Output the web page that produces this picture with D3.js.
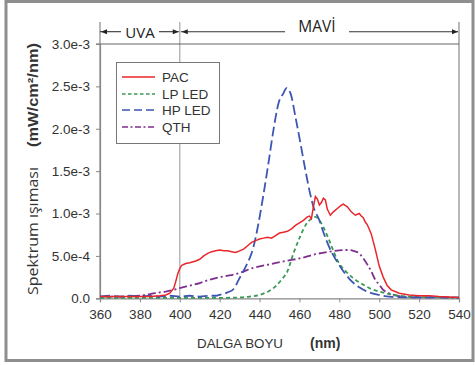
<!DOCTYPE html>
<html><head><meta charset="utf-8">
<script src="https://cdn.jsdelivr.net/npm/d3@7"></script>
<style>html,body{margin:0;padding:0;background:#fff;}svg{display:block;}</style>
</head><body>
<svg id="c" width="475" height="365"></svg>
<script>
// ---- data (values in units of 1e-4 mW/cm²/nm) ----
const pacNm  = [360,365,370,375,380,385,390,393,395,397,398,399,400,401,403,405,408,410,412,414,416,418,420,422,424,426,428,430,432,434,436,438,440,442,444,446,448,450,452,454,456,458,460,462,464,465,466,467,468,469,470,471,472,473,474,475.5,477,479,481,482,484,486,488,490,491,492,493,494,496,498,500,502,504,506,508,510,515,520,525,530,535,540];
const pacVal = [0.2,0.2,0.2,0.2,0.2,0.2,0.3,0.4,0.6,1.2,2.0,2.9,3.5,3.9,4.1,4.2,4.4,4.6,5.0,5.3,5.5,5.6,5.7,5.6,5.6,5.5,5.4,5.6,5.8,6.2,6.6,6.8,7.0,7.1,7.2,7.1,7.4,7.7,7.8,7.9,8.2,8.6,8.9,9.2,9.6,9.7,9.4,10.8,12.0,11.7,11.0,11.3,11.8,11.6,10.5,9.8,10.2,10.6,11.0,11.1,10.8,10.2,9.8,10.0,9.7,9.5,9.0,8.7,7.6,5.8,3.8,2.5,1.5,1.0,0.8,0.6,0.4,0.3,0.3,0.2,0.15,0.1];

const lpNm  = [360,380,400,420,430,435,440,445,448,451,454,457,460,463,466,468,470,472,475.5,479,484,488,492,496,500,505,510,520,530,540];
const lpVal = [0.05,0.05,0.05,0.05,0.1,0.2,0.4,0.9,1.4,2.2,3.2,5.3,7.1,8.6,9.4,9.6,9.2,8.4,6.5,4.5,3.0,2.2,1.6,1.1,0.8,0.5,0.3,0.15,0.1,0.05];

const hpNm  = [360,365,370,375,380,385,390,395,400,405,410,415,418,420,424,427,430,433,437,439.5,442,444.5,447,449.5,452,453.5,455.5,458,460.5,463,465.5,467,470,472,475,480,485,490,495,500,505,510,520,530,540];
const hpVal = [0.2,0.3,0.2,0.3,0.2,0.3,0.2,0.3,0.2,0.3,0.2,0.3,0.3,0.4,0.7,1.1,2.4,3.7,6.1,8.9,12.3,16.0,19.9,23.0,24.2,24.8,24.2,21.4,18.3,15.1,12.2,10.8,9.2,7.8,6.0,3.9,2.3,1.3,0.7,0.4,0.2,0.15,0.1,0.1,0.1];

const qthNm  = [360,370,380,385,390,393,397,400,405,410,415,420,425,430,437,445,453,460,468,475,480,484,487,490,492,494,496,498,500,502,505,508,512,520,530,540];
const qthVal = [0.2,0.2,0.3,0.5,0.7,0.8,1.0,1.2,1.5,1.8,2.2,2.5,2.7,3.0,3.6,4.0,4.4,4.7,5.2,5.5,5.65,5.7,5.6,5.3,4.7,4.0,3.2,2.2,1.6,1.0,0.6,0.35,0.2,0.1,0.1,0.05];

const seriesNames = ["PAC","LP LED","HP LED","QTH"];
const xTicks = [360,380,400,420,440,460,480,500,520,540];
const yTicks = [0,5,10,15,20,25,30];
const yTickLabels = ["0.0","5.0e-4","1.0e-3","1.5e-3","2.0e-3","2.5e-3","3.0e-3"];

// ---- drawing ----
const svg = d3.select("#c");
const L=100, R=459, T=44, B=298.3;
const x = d3.scaleLinear().domain([360,540]).range([L,R]);
const y = d3.scaleLinear().domain([0,30]).range([B,T]);
const tickFont = "'Liberation Sans', Arial, sans-serif";

// outer frame
svg.append("rect").attr("x",6).attr("y",1.5).attr("width",467).attr("height",359)
  .attr("fill","none").attr("stroke","#8e8e8e").attr("stroke-width",3);

// vertical lines extending above the plot
[360,400,540].forEach(v=>{
  svg.append("line").attr("x1",x(v)).attr("x2",x(v)).attr("y1",22).attr("y2",B)
    .attr("stroke", v===400 ? "#a8a8a8" : "#888").attr("stroke-width",1.2);
});
// top border
svg.append("line").attr("x1",L-4).attr("x2",R).attr("y1",T).attr("y2",T)
  .attr("stroke","#666").attr("stroke-width",1.2);

// axes
const xAxis = svg.append("g").attr("transform",`translate(0,${B})`)
  .call(d3.axisBottom(x).tickValues(xTicks).tickSize(4).tickPadding(7));
xAxis.select(".domain").attr("stroke","#888").attr("stroke-width",1.2);
xAxis.selectAll(".tick line").attr("stroke","#888");
xAxis.selectAll("text").attr("font-family",tickFont).attr("font-size",13.5).attr("fill","#333");

const yAxis = svg.append("g").attr("transform",`translate(${L},0)`)
  .call(d3.axisLeft(y).tickValues(yTicks).tickSize(4).tickPadding(6)
    .tickFormat((d,i)=>yTickLabels[i]));
yAxis.select(".domain").attr("stroke","#888").attr("stroke-width",1.2);
yAxis.selectAll(".tick line").attr("stroke","#888");
yAxis.selectAll("text").attr("font-family",tickFont).attr("font-size",13.5).attr("fill","#333");

// annotation arrows
const ann = svg.append("g").attr("stroke","#333").attr("stroke-width",1.1);
const ay = 31.7;
function seg(x1,x2){ ann.append("line").attr("x1",x1).attr("x2",x2).attr("y1",ay).attr("y2",ay); }
function head(tip,dir){ // dir -1 points left, +1 points right
  svg.append("path").attr("d",`M${tip},${ay} L${tip-dir*6},${ay-2.5} L${tip-dir*6},${ay+2.5} Z`).attr("fill","#222");
}
seg(x(360),x(360)+21); seg(x(360)+59,x(400)-1);
head(x(360)+1,-1); head(x(400)-1,1);
seg(x(400)+1,285); seg(349,x(540)-1);
head(x(400)+2,-1); head(x(540)-1,1);
svg.append("text").attr("x",140).attr("y",37.5).attr("text-anchor","middle")
  .attr("font-family","'Open Sans', sans-serif").attr("font-size",15).attr("fill","#222").text("UVA");
svg.append("text").attr("x",317).attr("y",32.3).attr("text-anchor","middle")
  .attr("font-family","'Open Sans', sans-serif").attr("font-size",15.5).attr("fill","#222").text("MAVİ");

// series
const colors = ["#e8262b","#3a9a55","#3d56b3","#7e2f8e"];
const dashes = [null,"4,3","10,4","8,3,2,3"];
const data = [[pacNm,pacVal],[lpNm,lpVal],[hpNm,hpVal],[qthNm,qthVal]];
const order = [3,1,2,0];
order.forEach(i=>{
  const pts = data[i][0].map((n,k)=>[n,data[i][1][k]]);
  const line = d3.line().x(d=>x(d[0])).y(d=>y(d[1]))
    .curve(i===0 ? d3.curveLinear : d3.curveMonotoneX);
  svg.append("path").datum(pts).attr("d",line).attr("fill","none")
    .attr("stroke",colors[i]).attr("stroke-width", i===0?1.5:1.8)
    .attr("stroke-dasharray",dashes[i]);
});

// legend
const lg = svg.append("g");
lg.append("rect").attr("x",116.5).attr("y",62.5).attr("width",103).attr("height",81)
  .attr("fill","#fff").attr("stroke","#777").attr("stroke-width",1);
const ly = [77,94,110,127];
seriesNames.forEach((nm,i)=>{
  lg.append("line").attr("x1",122).attr("x2",155).attr("y1",ly[i]).attr("y2",ly[i])
    .attr("stroke",colors[i]).attr("stroke-width",1.6).attr("stroke-dasharray",
      i===1?"3.5,2.5":(i===2?"8,4":(i===3?"6,2.5,2,2.5":null)));
  lg.append("text").attr("x",162).attr("y",ly[i]+5).attr("font-family",tickFont)
    .attr("font-size",13.5).attr("fill","#333").text(nm);
});

// axis titles
svg.append("text").attr("transform","translate(38,231) rotate(-90)").attr("text-anchor","middle")
  .attr("font-family","'Open Sans', sans-serif").attr("font-size",14).attr("fill","#333")
  .attr("textLength",128).attr("lengthAdjust","spacingAndGlyphs").text("Spektrum ışıması");
svg.append("text").attr("transform","translate(38,95) rotate(-90)").attr("text-anchor","middle")
  .attr("font-family",tickFont).attr("font-weight","bold").attr("font-size",14).attr("fill","#333")
  .attr("textLength",104).attr("lengthAdjust","spacingAndGlyphs").text("(mW/cm²/nm)");
svg.append("text").attr("x",197).attr("y",348).attr("font-family",tickFont)
  .attr("font-size",13).attr("fill","#333")
  .attr("textLength",86).attr("lengthAdjust","spacingAndGlyphs").text("DALGA BOYU");
svg.append("text").attr("x",310).attr("y",348).attr("font-family",tickFont)
  .attr("font-weight","bold").attr("font-size",14).attr("fill","#333").text("(nm)");
</script>
</body></html>
